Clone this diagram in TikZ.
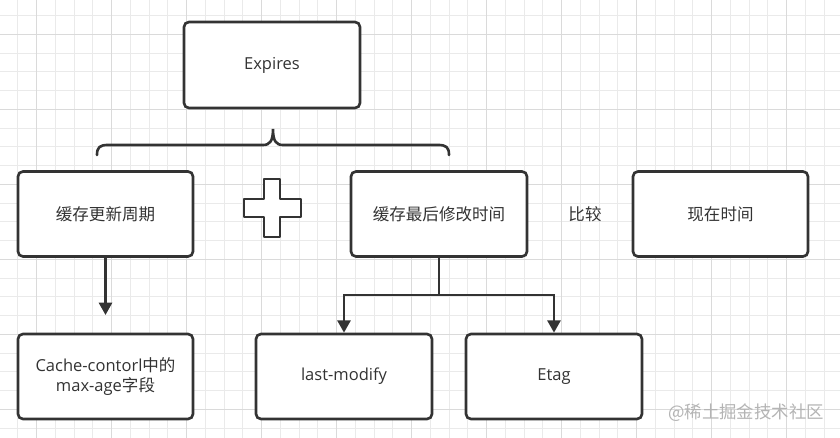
\documentclass[tikz,border=0pt]{standalone}
\usepackage{fontspec}
\setmainfont{Open Sans}
\newfontfamily\cjk{Noto Sans CJK SC}
\usetikzlibrary{arrows.meta}
\definecolor{ink}{HTML}{333333}
\definecolor{gridminor}{HTML}{EAEAEA}
\definecolor{gridmajor}{HTML}{DADADA}
\definecolor{mark}{HTML}{B4B4B4}
\begin{document}
\begin{tikzpicture}[x=0.02cm, y=-0.02cm,
    box/.style={draw=ink, line width=1.5pt, rounded corners=2.8pt, fill=white,
      minimum height=1.7cm, text=ink, align=center,
      font=\fontsize{9.4pt}{11.3pt}\selectfont},
    link/.style={draw=ink, line width=1.5pt},
    arr/.style={link, -{Triangle[length=7pt, width=7.4pt]}}]
  \useasboundingbox (0,0) rectangle (840,438);
  \fill[white] (0,0) rectangle (840,438);
  \foreach \i in {0,...,44}
    \draw[gridminor, line width=0.6pt] ({17.9+18.75*\i},0) -- ++(0,438);
  \foreach \i in {0,...,23}
    \draw[gridminor, line width=0.6pt] (0,{15.6+18.75*\i}) -- ++(840,0);
  \foreach \i in {0,...,10}
    \draw[gridmajor, line width=0.65pt] ({36.7+75*\i},0) -- ++(0,438);
  \foreach \i in {0,...,5}
    \draw[gridmajor, line width=0.65pt] (0,{34.3+75*\i}) -- ++(840,0);

  \node[box, minimum width=3.52cm, minimum height=1.72cm] (expires) at (272,65) {Expires};
  \node[box, minimum width=3.5cm] (cycle) at (105.5,214) {\cjk 缓存更新周期};
  \node[box, minimum width=3.52cm] (modtime) at (439,214) {\cjk 缓存最后修改时间};
  \node[box, minimum width=3.5cm] (now) at (720.5,214) {\cjk 现在时间};
  \node[text=ink, font=\cjk\fontsize{9.4pt}{11pt}\selectfont] (compare) at (585,214) {比较};
  \node[box, minimum width=3.5cm] (maxage) at (105.5,376.5) {Cache-contorl{\cjk 中的}\\max-age{\cjk 字段}};
  \node[box, minimum width=3.52cm] (lastmod) at (344,376.5) {last-modify};
  \node[box, minimum width=3.52cm] (etag) at (554,376.5) {Etag};

  \draw[link, fill=white, line join=round] (264,179) -- (280,179) -- (280,199) -- (301,199) -- (301,217)
    -- (280,217) -- (280,237) -- (264,237) -- (264,217) -- (244,217) -- (244,199) -- (264,199) -- cycle;

  \draw[link, line cap=round] (97,155) .. controls (97,147) and (100,145) .. (108,145) -- (263,145)
    .. controls (270,145) and (273,141) .. (273,129) .. controls (273,141) and (276,145) .. (283,145)
    -- (438,145) .. controls (446,145) and (449,147) .. (449,155);

  \coordinate (cycleend) at (105.5,315);
  \coordinate (split) at (439,295);
  \draw[arr] (cycle.south) -- (cycleend);
  \draw[link] (modtime.south) -- (split);
  \draw[arr] (split) -| (lastmod.north);
  \draw[arr] (split) -| (etag.north);

  \node[text=mark, font=\cjk\fontsize{9.9pt}{11pt}\selectfont] (watermark) at (746,413) {@稀土掘金技术社区};
\end{tikzpicture}
\end{document}
